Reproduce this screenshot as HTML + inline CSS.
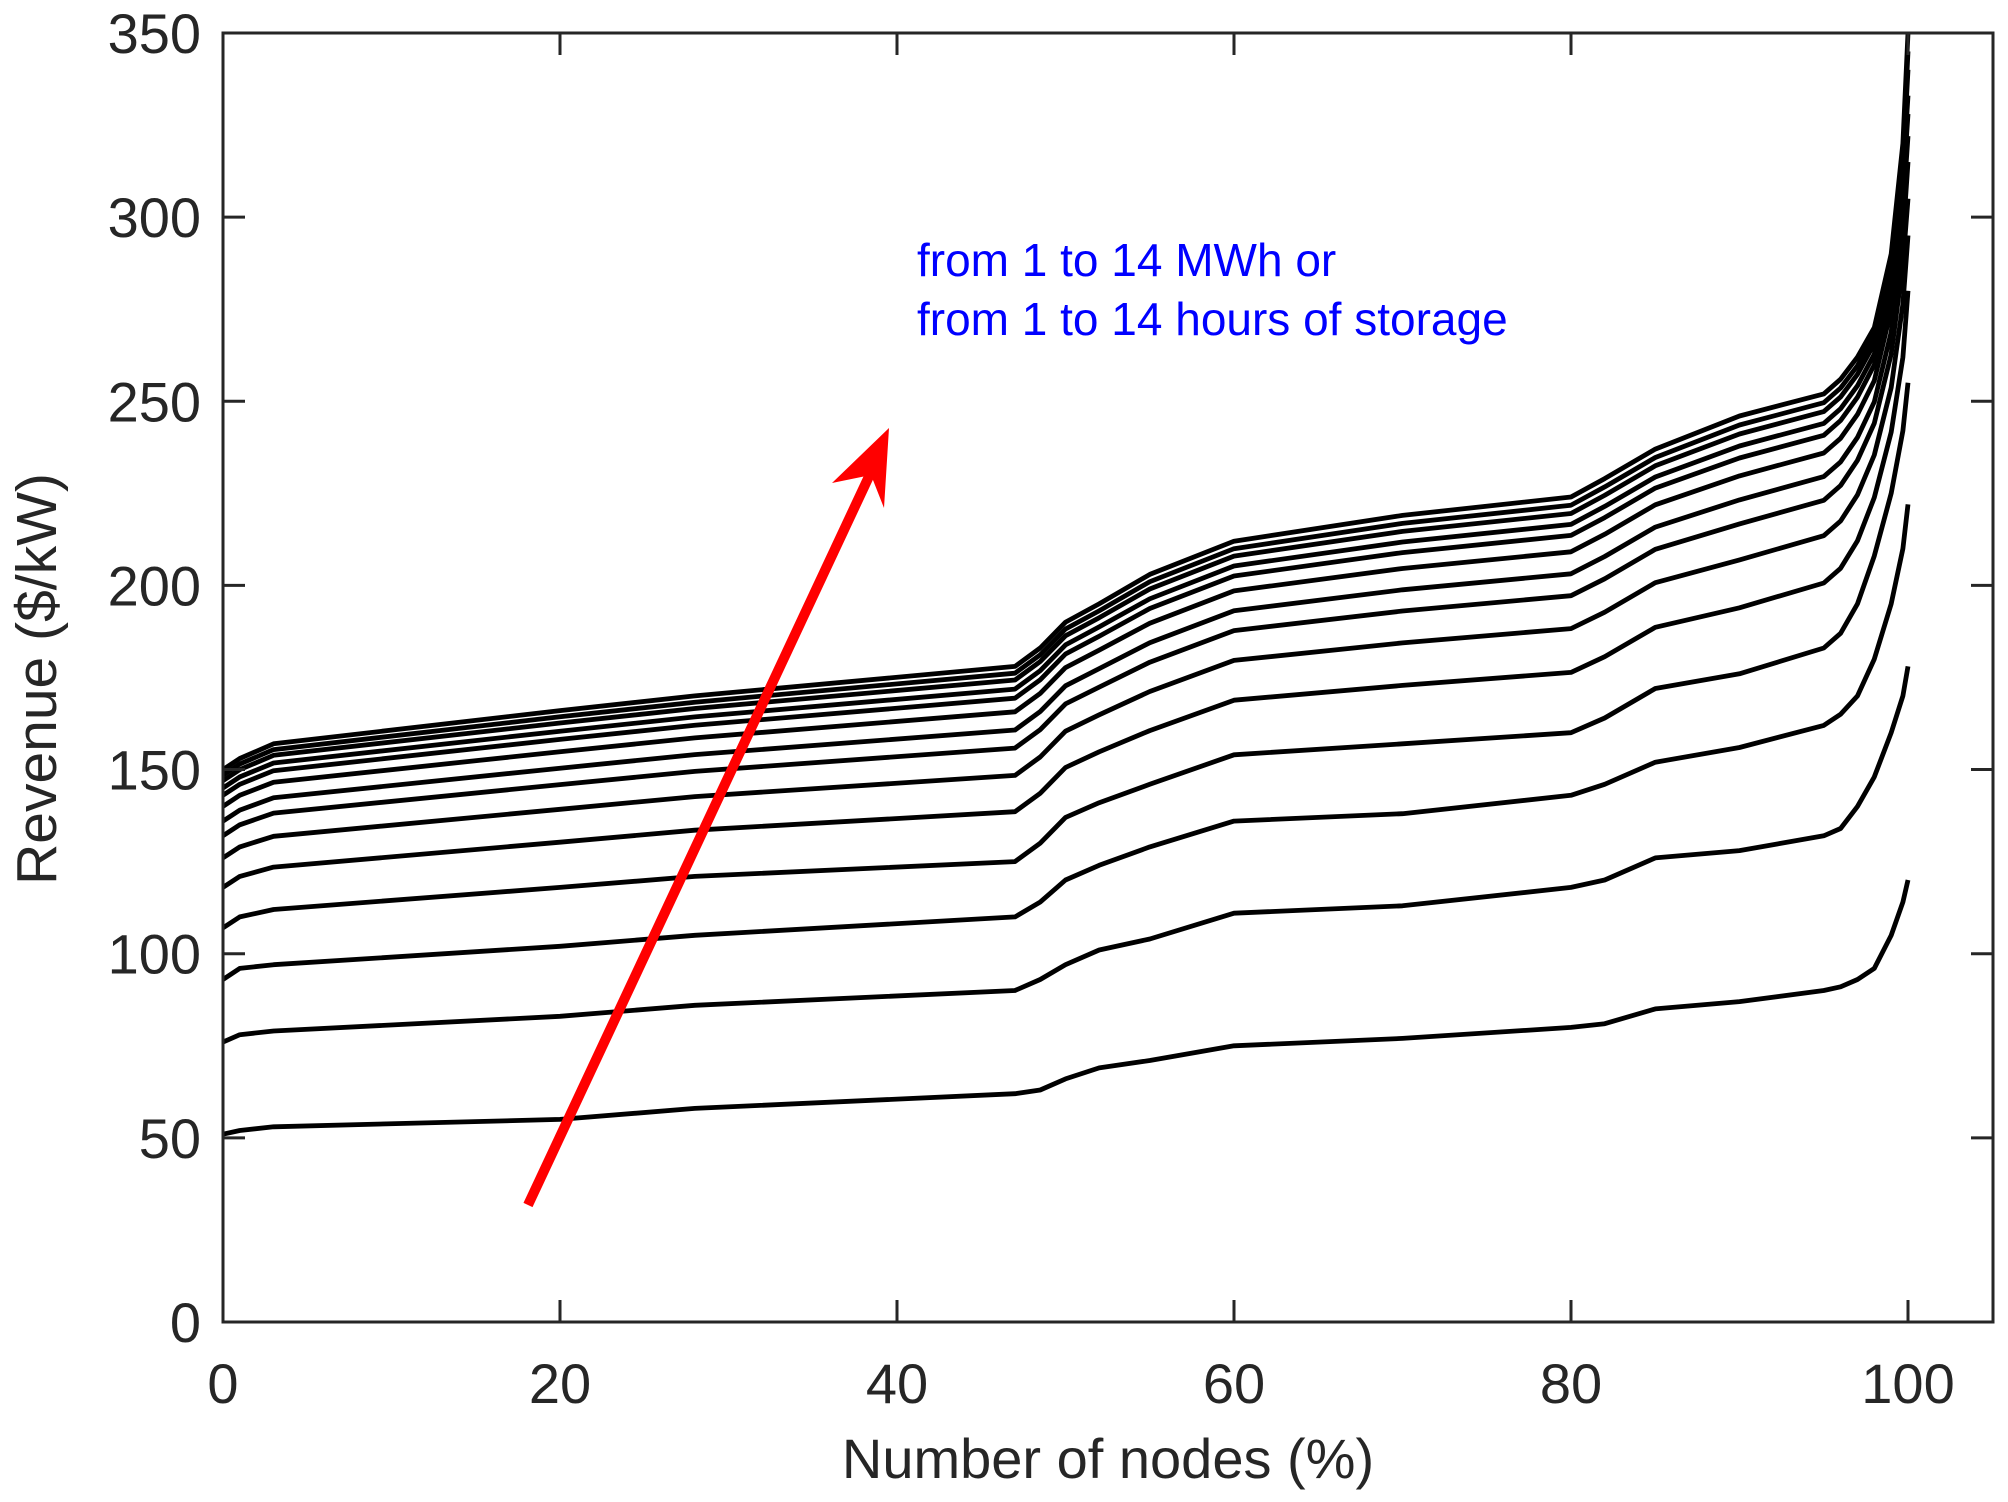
<!DOCTYPE html>
<html><head><meta charset="utf-8"><style>
html,body{margin:0;padding:0;background:#fff;}
svg{display:block;}
text{font-family:"Liberation Sans",Arial,sans-serif;fill:#262626;}
</style></head><body>
<svg id="s" width="2008" height="1502" viewBox="0 0 2008 1502" xmlns="http://www.w3.org/2000/svg">
<g id="curves" fill="none" stroke="#000" stroke-width="4.8" stroke-linejoin="round"></g>
<rect x="223" y="33" width="1770" height="1289" fill="none" stroke="#262626" stroke-width="3"/>
<g id="ticks" stroke="#262626" stroke-width="3"></g>
<g id="labels" font-size="56"></g>
<text x="1108" y="1478" font-size="56" text-anchor="middle">Number of nodes (%)</text>
<text transform="translate(56,679) rotate(-90)" font-size="57" text-anchor="middle">Revenue ($/kW)</text>
<text x="917" y="276" font-size="46" style="fill:#0000ff">from 1 to 14 MWh or</text>
<text x="917" y="335" font-size="46" style="fill:#0000ff">from 1 to 14 hours of storage</text>
<line x1="528" y1="1205" x2="872" y2="470" stroke="#ff0000" stroke-width="10"/>
<polygon points="889,428 884,508 871,475 832,483" fill="#ff0000"/>
</svg>
<script>
var X=function(v){return 223+v*16.85;}, Y=function(v){return 1322-v*3.683;};
var xs=[0,1,3,20,28,47,48.5,50,52,55,60,70,80,82,85,90,95,96,97,98,99,99.7,100];
var tabs=[
[51,52,53,55,58,62,63,66,69,71,75,77,80,81,85,87,90,91,93,96,105,114,120],
[76,78,79,83,86,90,93,97,101,104,111,113,118,120,126,128,132,134,140,148,160,170,178],
[93,96,97,102,105,110,114,120,124,129,136,138,143,146,152,156,162,165,170,180,195,210,222],
[107,110,112,118,121,125,130,137,141,146,154,157,160,164,172,176,183,187,195,208,225,242,255],
[150,153,157,166,170,178,183,190,195,203,212,219,224,229,237,246,252,256,262,270,290,320,350]];
var starts=[51,76,93,107,118,126,132,136,140,143,145,147,148.5,150];
var ends=[120,178,222,255,280,295,305,315,322,328,333,340,345,350];
var g=document.getElementById('curves'),ns='http://www.w3.org/2000/svg';
for(var k=0;k<14;k++){
 var row;
 if(k<4) row=tabs[k]; else {
  var t=(starts[k]-107)/(150-107);
  row=xs.map(function(x,i){return tabs[3][i]+(tabs[4][i]-tabs[3][i])*t;});
  var te=(ends[k]-255)/(350-255);
  row[row.length-1]=255+95*te;
 }
 var d='';
 for(var i=0;i<xs.length;i++){d+=(i?'L':'M')+X(xs[i]).toFixed(1)+','+Y(row[i]).toFixed(1);}
 var p=document.createElementNS(ns,'path');p.setAttribute('d',d);g.appendChild(p);
}
var tk=document.getElementById('ticks'),lb=document.getElementById('labels');
function L(a,b,c,d){var l=document.createElementNS(ns,'line');l.setAttribute('x1',a);l.setAttribute('y1',b);l.setAttribute('x2',c);l.setAttribute('y2',d);tk.appendChild(l);}
function T(x,y,s,anc){var t=document.createElementNS(ns,'text');t.setAttribute('x',x);t.setAttribute('y',y);t.setAttribute('text-anchor',anc);t.textContent=s;lb.appendChild(t);}
for(var v=0;v<=100;v+=20){var x=X(v);L(x,1322,x,1300);L(x,33,x,55);T(x,1403,v,'middle');}
for(var v=0;v<=350;v+=50){var y=Y(v);L(223,y,245,y);L(1993,y,1971,y);T(201,y+20,v,'end');}
</script>
</body></html>
